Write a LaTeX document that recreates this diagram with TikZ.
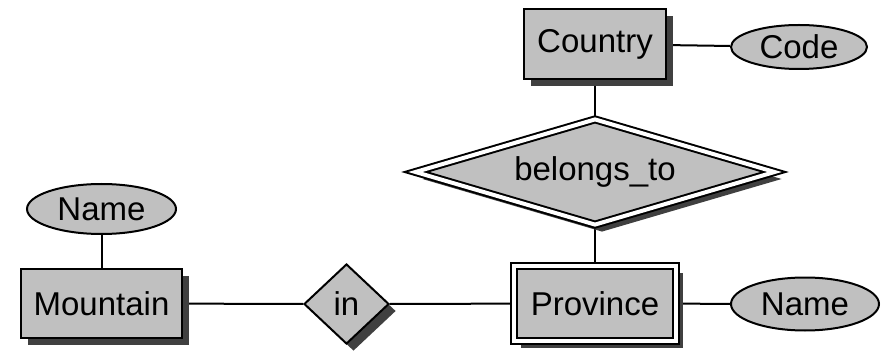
\documentclass[tikz,border=0pt]{standalone}
\usepackage{fontspec}
\setmainfont{Liberation Sans}
\usetikzlibrary{shapes.geometric,shadows,backgrounds}
\definecolor{erfill}{RGB}{192,192,192}
\definecolor{ershadow}{RGB}{64,64,64}
\begin{document}
\begin{tikzpicture}[x=0.5pt,y=-0.5pt,line width=1pt,
    font=\fontsize{16.5}{19}\selectfont,
    ershade/.style={drop shadow={shadow xshift=3.5pt,shadow yshift=-3.5pt,fill=ershadow,opacity=1}},
    entity/.style={draw,fill=erfill,rectangle,inner sep=0pt,ershade},
    weakentity/.style={entity,double,double distance=2pt},
    attr/.style={draw,fill=erfill,ellipse,inner sep=0pt},
    rel/.style={draw,fill=erfill,diamond,inner sep=0pt,ershade},
    weakrel/.style={rel,double,double distance=2pt},
    link/.style={draw,line width=1pt}]
        \useasboundingbox (0,0) rectangle (888,352);
        %% Entities
        \node[entity,minimum width=71pt,minimum height=35pt] (country) at (595,44) {Country};
        \node[weakentity,minimum width=81pt,minimum height=37.5pt] (province) at (595,303.5) {Province};
        \node[entity,minimum width=80.5pt,minimum height=34.5pt] (mountain) at (101.5,303.5) {Mountain};
        %% Relationships
        \node[weakrel,shape aspect=3.4,minimum width=180pt,minimum height=53pt] (belongs) at (595,172) {belongs\_to};
        \node[rel,shape aspect=1,minimum width=42.5pt,minimum height=40pt] (in) at (346.5,304) {in};
        %% Attributes
        \node[attr,minimum width=68pt,minimum height=22pt] (code) at (799,47) {Code};
        \node[attr,minimum width=74pt,minimum height=26.5pt] (pname) at (805,304) {Name};
        \node[attr,minimum width=74.5pt,minimum height=25pt] (mname) at (101.5,209) {Name};
        %% Lines
        \begin{scope}[on background layer]
            \path[link] (country) -- (code);
            \path[link] (country) -- (belongs);
            \path[link] (belongs) -- (province);
            \path[link] (province) -- (pname);
            \path[link] (mountain) -- (in);
            \path[link] (in) -- (province);
            \path[link] (mname) -- (mountain);
        \end{scope}
    \end{tikzpicture}
\end{document}
